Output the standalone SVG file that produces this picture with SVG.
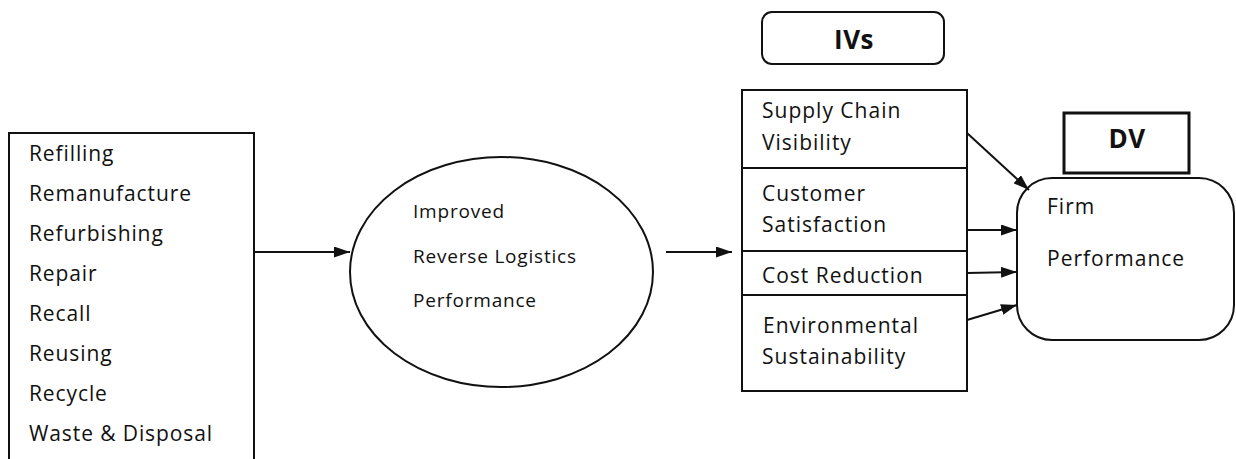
<svg xmlns="http://www.w3.org/2000/svg" width="1236" height="459" viewBox="0 0 1236 459">
<style>
text{font-family:"Open Sans","Noto Sans","Liberation Sans",sans-serif;fill:#111;font-weight:500}
.l{font-size:21px;letter-spacing:0.9px}
.e{font-size:19px;letter-spacing:0.8px}
.i{font-size:21px;letter-spacing:1px}
.b{font-size:26px;font-weight:bold;letter-spacing:0.5px}
.s{fill:#fff;stroke:#111;stroke-width:2}
.c{stroke:#111;stroke-width:2;fill:none}
</style>
<defs>
<marker id="ah" viewBox="0 0 16 11" refX="16" refY="5.5" markerWidth="16" markerHeight="11" markerUnits="userSpaceOnUse" orient="auto">
<path d="M0,0L16,5.5L0,11z" fill="#111"/>
</marker>
</defs>
<rect width="1236" height="459" fill="#fff"/>
<g id="activities">
<rect class="s" x="9" y="133" width="245" height="330"/>
<text class="l" x="29" y="161">Refilling</text>
<text class="l" x="29" y="201">Remanufacture</text>
<text class="l" x="29" y="241">Refurbishing</text>
<text class="l" x="29" y="281">Repair</text>
<text class="l" x="29" y="321">Recall</text>
<text class="l" x="29" y="361">Reusing</text>
<text class="l" x="29" y="401">Recycle</text>
<text class="l" x="29" y="441">Waste &amp; Disposal</text>
</g>
<g id="rl-performance">
<ellipse class="s" cx="501.5" cy="272" rx="151.5" ry="115"/>
<text class="e" x="413" y="218">Improved</text>
<text class="e" x="413" y="263">Reverse Logistics</text>
<text class="e" x="413" y="307">Performance</text>
</g>
<g id="ivs-label">
<rect class="s" x="762" y="12" width="182" height="52" rx="10"/>
<text class="b" x="854" y="49" text-anchor="middle">IVs</text>
</g>
<g id="ivs">
<rect class="s" x="742" y="90" width="225" height="301"/>
<line class="c" x1="742" y1="168" x2="967" y2="168"/>
<line class="c" x1="742" y1="251" x2="967" y2="251"/>
<line class="c" x1="742" y1="295" x2="967" y2="295"/>
<text class="i" x="762" y="118">Supply Chain</text>
<text class="i" x="762" y="150">Visibility</text>
<text class="i" x="762" y="201">Customer</text>
<text class="i" x="762" y="232">Satisfaction</text>
<text class="i" x="762" y="283">Cost Reduction</text>
<text class="i" x="763" y="333">Environmental</text>
<text class="i" x="762" y="364">Sustainability</text>
</g>
<g id="dv-label">
<rect x="1064" y="113" width="125" height="60" fill="#fff" stroke="#111" stroke-width="3"/>
<text class="b" x="1127" y="148" text-anchor="middle">DV</text>
</g>
<g id="firm-performance">
<rect class="s" x="1017" y="178" width="217" height="162" rx="35"/>
<text class="i" x="1047" y="214">Firm</text>
<text class="i" x="1047" y="266">Performance</text>
</g>
<g id="connectors">
<line class="c" x1="254" y1="252" x2="350" y2="252" marker-end="url(#ah)"/>
<line class="c" x1="666" y1="252" x2="732" y2="252" marker-end="url(#ah)"/>
<line class="c" x1="967" y1="133" x2="1029" y2="190" marker-end="url(#ah)"/>
<line class="c" x1="967" y1="230" x2="1017" y2="230" marker-end="url(#ah)"/>
<line class="c" x1="967" y1="273" x2="1017" y2="272" marker-end="url(#ah)"/>
<line class="c" x1="967" y1="320" x2="1017" y2="305" marker-end="url(#ah)"/>
</g>
</svg>
